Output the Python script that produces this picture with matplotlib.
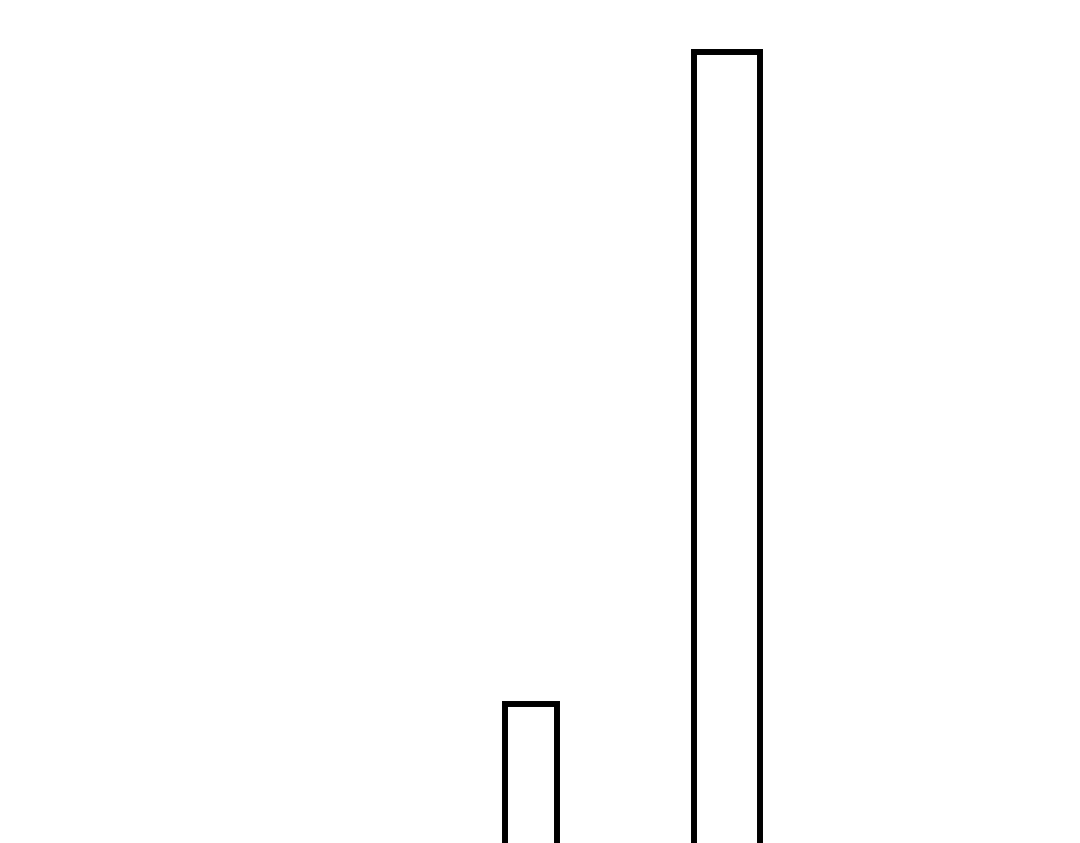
import matplotlib
matplotlib.use('Agg')
import matplotlib.pyplot as plt

# two outlined bars, baseline is below the visible area
categories = ['A', 'B']
values = [160, 812]
widths = [0.27, 0.335]

fig = plt.figure(figsize=(10.8, 8.43), dpi=100)
ax = fig.add_axes([0, 0, 1, 1])

ax.bar(categories, values, width=widths, color='white',
       edgecolor='black', linewidth=4.3)

ax.set_xlim(-2.709, 2.801)
ax.set_ylim(21, 864)
ax.axis('off')

plt.savefig('out.png', dpi=100, facecolor='white')
